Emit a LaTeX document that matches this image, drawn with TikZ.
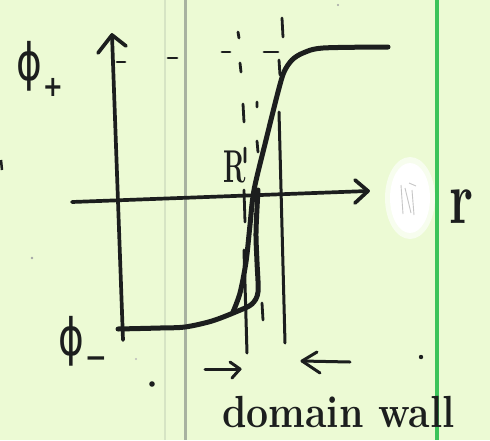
\documentclass[tikz,border=0pt]{standalone}
\usepackage{fontspec}
\usepackage{graphicx}
\newfontfamily\handsym{DejaVu Sans}
\definecolor{paper}{RGB}{236,250,212}
\definecolor{ink}{RGB}{28,30,30}
\definecolor{greenrule}{RGB}{60,195,90}
\definecolor{grayrule}{RGB}{168,178,160}
\definecolor{faintrule}{RGB}{214,228,196}
\begin{document}
\begin{tikzpicture}[x=1pt,y=-1pt,
  inkline/.style={draw=ink,line width=3.7pt,line cap=round,line join=round},
  wallline/.style={draw=ink,line width=3pt,line cap=round},
  curveline/.style={draw=ink,line width=5pt,line cap=round,line join=round},
  dashmark/.style={draw=ink,line width=2.8pt,line cap=round},
  dotmark/.style={fill=ink},
  lbl/.style={text=ink,inner sep=0pt}]
% paper
\useasboundingbox (0,0) rectangle (490,440);
\fill[paper] (0,0) rectangle (490,440);
\draw[faintrule,line width=2pt] (165,0) -- (165,440);
\draw[grayrule,line width=3pt] (185,0) -- (185,440);
\draw[greenrule,line width=4pt] (437,0) -- (437,440);
% erased smudge
\fill[white!60!paper] (410,198) ellipse [x radius=25, y radius=41];
\fill[white] (410,198) ellipse [x radius=20, y radius=35];
\draw[gray!45,line width=0.9pt] (401,185) -- (403,214) (405,188) -- (411,213) (412,190) -- (414,215) (409,183) -- (416,186);
% axes
\coordinate (ybot) at (123,340);
\coordinate (ytop) at (112,35);
\draw[inkline] (ybot) -- (ytop);
\draw[inkline] (98,53) -- (ytop) -- (126,46);
\coordinate (xleft) at (72,202);
\coordinate (xright) at (368,191);
\draw[inkline] (xleft) -- (xright);
\draw[inkline] (355,180) -- (xright) -- (355,203);
% phi+ level dashes
\draw[dashmark] (117,62) -- (125,62) (168,58) -- (177,58) (222,52) -- (230,52) (264,52) -- (278,52);
% left wall (dashed then solid)
\draw[dashmark] (238,32) -- (239,38) (240,63) -- (241,72) (243,104) -- (244,122)
  (245,148) -- (245,162) (244,190) -- (245,222);
\draw[wallline] (244,250) -- (247,353);
% middle marks
\draw[dashmark] (257,102) -- (257,107) (257,141) -- (258,152) (262,303) -- (263,320);
% right wall
\draw[dashmark] (282,18) -- (283,37) (279,60) -- (280,75);
\draw[wallline] (279,112) -- (285,343);
% curve strokes
\draw[curveline] plot[smooth,tension=0.5] coordinates {(233,312) (240,293) (246,262) (250,225) (254,190) (266,140) (278,92) (284,72) (292,60) (303,53) (323,48) (388,47)};
\draw[curveline] plot[smooth,tension=0.5] coordinates {(118,329) (160,328) (185,327) (212,321) (238,311) (252,304) (258,292) (257,262) (256,232) (258,190)};
% labels
\node[lbl,anchor=base west] (phip) at (16,80) {\handsym\fontsize{46}{46}\selectfont\scalebox{0.85}[1.12]{ϕ}\kern1pt\raisebox{-16pt}{\bfseries\fontsize{24}{24}\selectfont\scalebox{1}[1.2]{+}}};
\node[lbl,anchor=base west] (phim) at (58,355) {\handsym\fontsize{46}{46}\selectfont\scalebox{0.85}[1.12]{ϕ}\kern1pt\raisebox{-12pt}{\bfseries\fontsize{24}{24}\selectfont\scalebox{1.1}[1.2]{−}}};
\node[lbl,anchor=base west] (R) at (223,182) {\fontsize{46}{46}\selectfont\scalebox{0.58}[1]{\bfseries R}};
\node[lbl,anchor=base west] (r) at (449,223) {\fontsize{75}{75}\selectfont\scalebox{0.7}[1]{\bfseries r}};
\node[lbl,anchor=base west] (dw) at (222,427) {\fontsize{45}{45}\selectfont\scalebox{0.87}[1]{\bfseries domain wall}};
% arrows toward the wall
\draw[wallline] (205,369) -- (240,369);
\draw[wallline,line join=round] (230,362) -- (240,369) -- (232,378);
\draw[wallline] (350,362) -- (302,361);
\draw[wallline,line join=round] (317,352) -- (302,361) -- (320,373);
% stray dots and marks
\fill[dotmark] (152,384) circle (2.8);
\fill[dotmark] (421,357) circle (2.2);
\fill[ink!40] (32,258) circle (1.3);
\fill[ink!30] (136,359) circle (1.2);
\fill[ink!40] (338,5) circle (1.2);
\draw[ink,line width=2.5pt] (1,160) -- (2,170);
\end{tikzpicture}
\end{document}
